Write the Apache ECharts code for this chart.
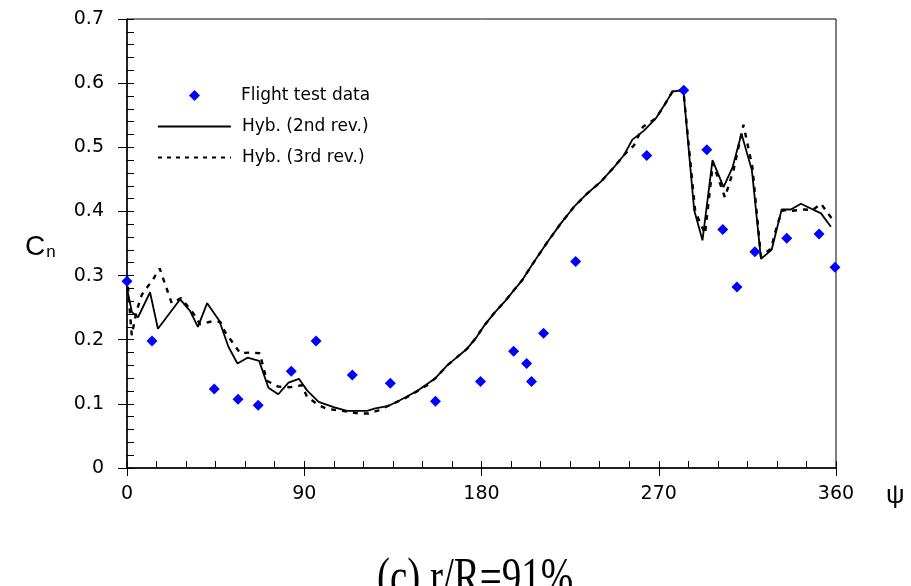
<!DOCTYPE html>
<html>
<head>
<meta charset="utf-8">
<script src="https://cdn.jsdelivr.net/npm/echarts@6/dist/echarts.min.js"></script>
<style>
html,body{margin:0;padding:0;background:#fff;}
#chart{width:911px;height:586px;}
</style>
</head>
<body>
<div id="chart"></div>
<script>
// Flight test data [psi, Cn]
const flightTest = [
  [0, 0.291], [12.7, 0.198], [44.3, 0.123], [56.4, 0.107], [66.6, 0.098],
  [83.4, 0.151], [96, 0.198], [114.4, 0.145], [133.7, 0.132], [156.6, 0.104],
  [179.5, 0.135], [196.3, 0.182], [202.9, 0.163], [205.4, 0.135], [211.5, 0.21],
  [227.8, 0.322], [263.9, 0.487], [282.7, 0.589], [294.4, 0.496], [302.5, 0.372],
  [309.7, 0.282], [318.8, 0.337], [335, 0.358], [351.4, 0.365], [359.5, 0.313]
];
// Hyb. (2nd rev.)
const hyb2 = [
  [0, 0.28], [2.5, 0.243], [5.6, 0.235], [11.7, 0.274], [15.7, 0.217],
  [27, 0.263], [32, 0.245], [36, 0.22], [40.7, 0.257], [46.8, 0.23],
  [51.5, 0.189], [56.1, 0.163], [61.2, 0.172], [67.1, 0.167], [71.8, 0.125],
  [76.8, 0.115], [82, 0.133], [87.3, 0.139], [91.4, 0.121], [97.3, 0.103],
  [104.9, 0.095], [111.7, 0.089], [121.9, 0.089], [126.1, 0.093], [132.9, 0.097],
  [138.8, 0.106], [147.3, 0.12], [156.6, 0.14], [162.6, 0.16], [167.3, 0.172],
  [172.7, 0.186], [177, 0.202], [180.9, 0.22], [186.3, 0.241], [192.2, 0.261],
  [196.4, 0.277], [200.7, 0.293], [206.6, 0.321], [213.4, 0.352], [220.2, 0.381],
  [226.9, 0.407], [233.7, 0.428], [240.5, 0.446], [247.3, 0.469], [252.4, 0.488],
  [256.6, 0.512], [262.5, 0.526], [268.5, 0.545], [272.7, 0.565], [277, 0.587],
  [282.5, 0.589], [288, 0.402], [292.2, 0.355], [297.3, 0.48], [302.9, 0.438],
  [307.5, 0.469], [312, 0.521], [317.3, 0.464], [321.9, 0.326], [327.3, 0.34],
  [332.4, 0.403], [337.1, 0.403], [342.2, 0.412], [352.4, 0.397], [357.4, 0.376]
];
// Hyb. (3rd rev.)
const hyb3 = [
  [0, 0.30], [2.4, 0.207], [4.9, 0.245], [7.5, 0.27], [13.4, 0.295],
  [16.6, 0.311], [22.7, 0.257], [27.5, 0.265], [33.7, 0.241], [37.1, 0.224],
  [42.2, 0.228], [47.3, 0.228], [49.8, 0.212], [57.5, 0.179], [62.3, 0.18],
  [67.4, 0.179], [71, 0.136], [76.6, 0.127], [82.9, 0.126], [88.8, 0.129],
  [91.4, 0.111], [97.3, 0.098], [101.8, 0.092], [107.5, 0.09], [117.6, 0.085],
  [122.7, 0.085], [127.8, 0.09], [141.4, 0.109], [152.4, 0.129], [156.6, 0.14],
  [162.6, 0.16], [167.3, 0.172], [172.7, 0.186], [177, 0.202], [180.9, 0.22],
  [186.3, 0.241], [192.2, 0.261], [196.4, 0.277], [200.7, 0.293], [206.6, 0.321],
  [213.4, 0.352], [220.2, 0.381], [226.9, 0.407], [233.7, 0.428], [240.5, 0.446],
  [247.3, 0.469], [252.4, 0.488], [257.4, 0.503], [262, 0.532], [268.5, 0.545],
  [272.7, 0.565], [277, 0.587], [282.5, 0.589], [288.5, 0.40], [293.5, 0.365],
  [297.5, 0.475], [303.6, 0.422], [308, 0.465], [313, 0.535], [317.5, 0.47],
  [321.9, 0.33], [327, 0.342], [330.3, 0.381], [333, 0.402], [338, 0.401],
  [343.9, 0.403], [348.1, 0.402], [352.4, 0.412], [358.3, 0.387]
];
const xTicks = [0, 90, 180, 270, 360];
const yTicks = [0, 0.1, 0.2, 0.3, 0.4, 0.5, 0.6, 0.7];
const seriesNames = ['Flight test data', 'Hyb. (2nd rev.)', 'Hyb. (3rd rev.)'];

const chart = echarts.init(document.getElementById('chart'), null, {renderer: 'canvas'});
const labelFont = {fontFamily: 'DejaVu Sans', fontSize: 19, color: '#000'};
function legendText(padLeft) {
  return {fontFamily: 'DejaVu Sans', fontSize: 17, color: '#000', lineHeight: 16, padding: [0, 0, 0, padLeft]};
}
const hiddenSymbol = {color: 'rgba(0,0,0,0)', borderColor: 'rgba(0,0,0,0)', borderWidth: 0};

chart.setOption({
  backgroundColor: '#fff',
  animation: false,
  grid: {left: 127, right: 75, top: 19, bottom: 118, show: true, borderColor: '#000', borderWidth: 1, backgroundColor: 'transparent'},
  xAxis: [
    {type: 'value', min: xTicks[0], max: xTicks[xTicks.length - 1], interval: 90, position: 'bottom',
     axisLine: {show: true, lineStyle: {color: '#000', width: 1.5}},
     axisTick: {show: true, inside: false, length: 8, lineStyle: {color: '#000', width: 1}},
     axisLabel: Object.assign({margin: 17}, labelFont),
     splitLine: {show: false}},
    {type: 'value', min: 0, max: 360, interval: 15, position: 'bottom',
     axisLine: {show: false}, axisLabel: {show: false}, splitLine: {show: false},
     axisTick: {show: true, inside: true, length: 7, lineStyle: {color: '#000', width: 1}}}
  ],
  yAxis: [
    {type: 'value', min: yTicks[0], max: yTicks[yTicks.length - 1], interval: 0.1, position: 'left',
     axisLine: {show: true, lineStyle: {color: '#000', width: 1.5}},
     axisTick: {show: true, inside: false, length: 9, lineStyle: {color: '#000', width: 1}},
     axisLabel: Object.assign({margin: 23}, labelFont),
     splitLine: {show: false}},
    {type: 'value', min: 0, max: 0.7, interval: 0.02, position: 'left',
     axisLine: {show: false}, axisLabel: {show: false}, splitLine: {show: false},
     axisTick: {show: true, inside: true, length: 7, lineStyle: {color: '#000', width: 1}}}
  ],
  legend: [
    {data: [{name: seriesNames[0], icon: 'diamond'}], left: 189, top: 87, padding: 0,
     itemWidth: 11, itemHeight: 11, textStyle: legendText(36)},
    {data: [seriesNames[1]], left: 157, top: 118, padding: 0, itemWidth: 73, itemHeight: 10,
     itemStyle: hiddenSymbol, lineStyle: {width: 1.8}, textStyle: legendText(6)},
    {data: [seriesNames[2]], left: 157, top: 149, padding: 0, itemWidth: 73, itemHeight: 10,
     itemStyle: hiddenSymbol, lineStyle: {width: 2, type: [4, 5]}, textStyle: legendText(6)}
  ],
  series: [
    {name: seriesNames[1], type: 'line', data: hyb2, symbol: 'none', showSymbol: false,
     lineStyle: {color: '#000', width: 1.8, type: 'solid'}, itemStyle: {color: '#000'}, z: 3},
    {name: seriesNames[2], type: 'line', data: hyb3, symbol: 'none', showSymbol: false,
     lineStyle: {color: '#000', width: 2.4, type: [5, 6]}, itemStyle: {color: '#000'}, z: 4},
    {name: seriesNames[0], type: 'scatter', data: flightTest, symbol: 'diamond', symbolSize: 11,
     itemStyle: {color: '#0000ff', opacity: 1}, z: 5}
  ],
  graphic: [
    {type: 'text', left: 25, top: 233, style: {text: '{c|C}{n|n}', rich: {
      c: {fontFamily: 'Liberation Sans', fontSize: 28, color: '#000', verticalAlign: 'bottom'},
      n: {fontFamily: 'Liberation Sans', fontSize: 17, color: '#000', verticalAlign: 'bottom', padding: [0, 0, 0, 1]}
    }}},
    {type: 'text', left: 886, top: 483, style: {text: 'ψ', fontFamily: 'Liberation Sans', fontSize: 26, fill: '#000'}},
    {type: 'text', x: 377, y: 554, scaleY: 1.35, style: {text: '(c) r/R=91%', fontFamily: 'Liberation Serif', fontSize: 39, fill: '#000', verticalAlign: 'top', align: 'left'}}
  ]
});
</script>
</body>
</html>
